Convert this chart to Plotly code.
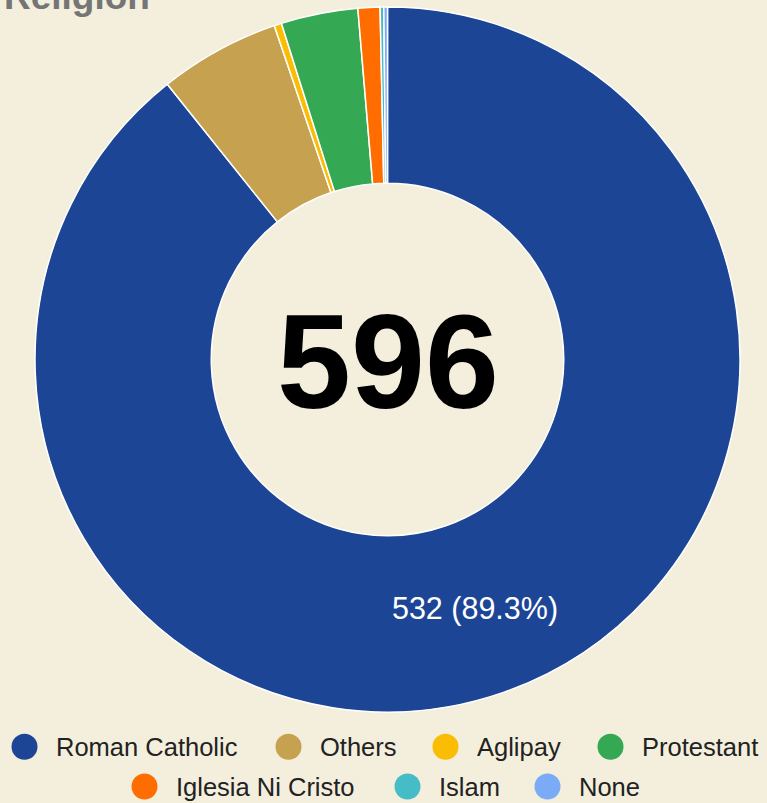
import plotly.graph_objects as go

# Religion breakdown
religions = ["Roman Catholic", "Others", "Aglipay", "Protestant",
             "Iglesia Ni Cristo", "Islam", "None"]
counts = [532, 33, 2, 21, 6, 1, 1]
colors = ["#1d4596", "#c5a150", "#fbbc04", "#34a853",
          "#ff6d01", "#46bdc6", "#7baaf7"]

W, H = 767, 803
BG = "#f3efdc"
FONT = "Arial, Liberation Sans, sans-serif"

total = sum(counts)

# only the dominant slice carries a value label
text_pos = ["inside" if c == max(counts) else "none" for c in counts]

fig = go.Figure(go.Pie(
    labels=religions,
    values=counts,
    marker=dict(colors=colors, line=dict(color="white", width=1.5)),
    hole=0.5,
    sort=False,
    direction="clockwise",
    rotation=0,
    texttemplate="%{value} (%{percent:.1%})",
    textposition=text_pos,
    insidetextorientation="horizontal",
    insidetextfont=dict(color="white", size=30.5, family=FONT),
    showlegend=False,
    domain=dict(x=[35 / W, 740 / W], y=[1 - 712 / H, 1 - 7 / H]),
))

def px(x):
    return x / W

def py(y):
    return 1 - y / H

annotations = [
    # chart title, partly above the top edge
    dict(text="<b>Religion</b>", x=px(2), y=py(-3), xref="paper", yref="paper",
         xanchor="left", yanchor="middle", showarrow=False,
         font=dict(size=37, color="#757575", family=FONT)),
    # total in the hole
    dict(text=f"<b>{total}</b>", x=px(387.5), y=py(362), xref="paper", yref="paper",
         xanchor="center", yanchor="middle", showarrow=False,
         font=dict(size=133, color="black", family=FONT)),
]

# custom legend: circle swatches with labels, two centred rows
legend_x = [24.5, 288.5, 445.5, 610.5, 144.5, 407.5, 547.5]
legend_y = [746.7, 746.7, 746.7, 746.7, 786.5, 786.5, 786.5]
shapes = []
for name, col, lx, ly in zip(religions, colors, legend_x, legend_y):
    shapes.append(dict(
        type="circle", xref="paper", yref="paper",
        xsizemode="pixel", ysizemode="pixel",
        xanchor=px(lx), yanchor=py(ly),
        x0=-13, x1=13, y0=-13, y1=13,
        fillcolor=col, line=dict(width=0),
    ))
    annotations.append(dict(
        text=name, x=px(lx + 29), y=py(ly), xref="paper", yref="paper",
        xanchor="left", yanchor="middle", showarrow=False,
        font=dict(size=25.5, color="#222222", family=FONT),
    ))

fig.update_layout(
    width=W, height=H,
    margin=dict(l=0, r=0, t=0, b=0),
    paper_bgcolor=BG, plot_bgcolor=BG,
    annotations=annotations,
    shapes=shapes,
)

fig.write_html("out.html")
